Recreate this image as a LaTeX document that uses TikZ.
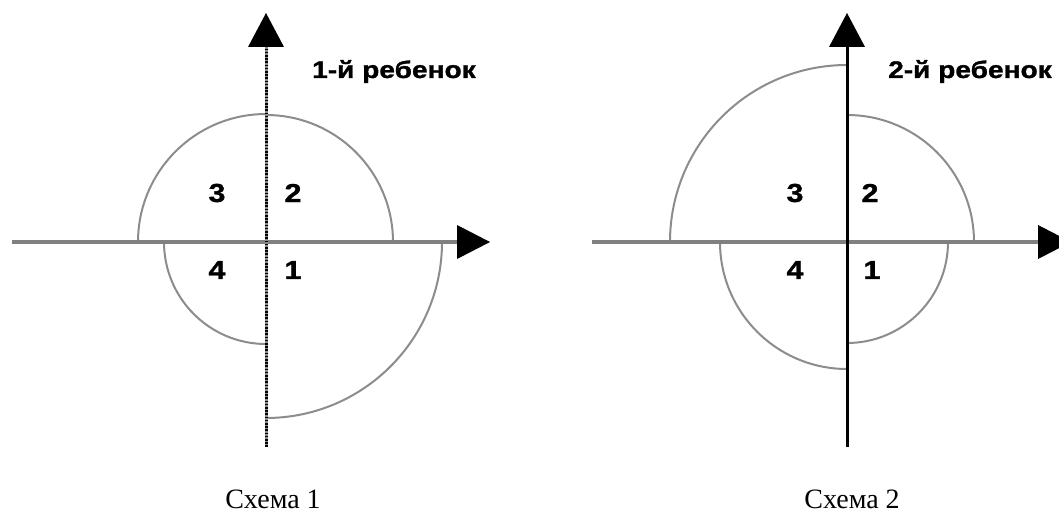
\documentclass[tikz,border=0pt]{standalone}
\usepackage{fontspec}
\setmainfont{Liberation Serif}
\newfontfamily\lblfont[FakeStretch=1.17,FakeBold=1.2]{Liberation Sans}
\tikzset{
  haxis/.style={black!50,line width=3.5pt},
  quarter/.style={black!45,line width=2pt},
  headfill/.style={fill=black},
  numlabel/.style={font=\lblfont\bfseries\fontsize{26}{28}\selectfont,inner sep=0pt,anchor=center},
  childlabel/.style={font=\lblfont\bfseries\fontsize{24}{26}\selectfont,inner sep=0pt,anchor=base west},
  caption/.style={font=\fontsize{28}{30}\selectfont,inner sep=0pt,anchor=base}
}
\begin{document}
\begin{tikzpicture}[x=1pt,y=1pt]
\useasboundingbox (0,0) rectangle (1059,515);
\begin{scope}[shift={(266,273)}]
\draw[quarter] (127,0) arc[start angle=0,end angle=90,radius=127];
\draw[quarter] (0,128) arc[start angle=90,end angle=180,radius=128];
\draw[quarter] (-102,0) arc[start angle=180,end angle=270,radius=102];
\draw[quarter] (0,-176) arc[start angle=270,end angle=360,radius=176];
\draw[haxis] (-254,0) -- (192,0);
\fill[headfill] (191,17) -- (224,0) -- (191,-17) -- cycle;
\draw[black!45,line width=3pt] (0,-205) -- (0,196);
\draw[black,line width=3pt,dash pattern=on 1.6pt off 1.6pt] (0,-205) -- (0,196);
\fill[headfill] (-18,195) -- (0,229) -- (18,195) -- cycle;
\node[numlabel] (l3) at (-49,49) {3};
\node[numlabel] (l2) at (27,49) {2};
\node[numlabel] (l4) at (-49,-28) {4};
\node[numlabel] (l1) at (27,-28) {1};
\node[childlabel] (lchild) at (46,164) {1-й ребенок};
\node[caption] (lcap) at (7,-266) {Схема 1};
\end{scope}
\begin{scope}[shift={(847,273)}]
\draw[quarter] (127,0) arc[start angle=0,end angle=90,radius=127];
\draw[quarter] (0,177) arc[start angle=90,end angle=180,radius=177];
\draw[quarter] (-127,0) arc[start angle=180,end angle=270,radius=127];
\draw[quarter] (0,-101) arc[start angle=270,end angle=360,radius=101];
\draw[haxis] (-255,0) -- (192,0);
\fill[headfill] (191,17) -- (224,0) -- (191,-17) -- cycle;
\draw[black,line width=3pt] (0,-205) -- (0,196);
\fill[headfill] (-18,195) -- (0,229) -- (18,195) -- cycle;
\node[numlabel] (r3) at (-52,49) {3};
\node[numlabel] (r2) at (23,49) {2};
\node[numlabel] (r4) at (-52,-28) {4};
\node[numlabel] (r1) at (25,-28) {1};
\node[childlabel] (rchild) at (41,164) {2-й ребенок};
\node[caption] (rcap) at (5,-266) {Схема 2};
\end{scope}
\end{tikzpicture}
\end{document}
